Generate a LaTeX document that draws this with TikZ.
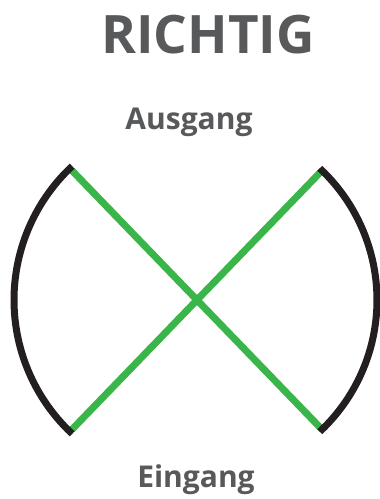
\documentclass[tikz,border=0pt]{standalone}
\usepackage{fontspec}
\setmainfont{Open Sans}
\definecolor{txtgrey}{HTML}{58595B}
\definecolor{arcblack}{HTML}{231F20}
\definecolor{xgreen}{HTML}{3AB54A}
\begin{document}
\begin{tikzpicture}[x=1pt,y=-1pt,
  lbl/.style={text=txtgrey,font=\bfseries,anchor=base,inner sep=0pt},
  arcline/.style={draw=arcblack,line width=7pt},
  greenline/.style={draw=xgreen,line width=7pt}]
\useasboundingbox[fill=white] (0,0) rectangle (380,499);
\coordinate (c) at (197,300);
\node[lbl,font=\fontsize{53}{60}\selectfont\bfseries] (title) at (208,53) {RICHTIG};
\node[lbl,font=\fontsize{30}{34}\selectfont\bfseries] (aus) at (189,129) {Ausgang};
\node[lbl,font=\fontsize{30}{34}\selectfont\bfseries] (ein) at (196,487) {Eingang};
\path (c) ++(134:180) coordinate (tl);
\path (c) ++(226:180) coordinate (bl);
\path (c) ++(46:180) coordinate (tr);
\path (c) ++(-46:180) coordinate (br);
\draw[greenline] (tl) -- (br);
\draw[greenline] (bl) -- (tr);
\draw[arcline] (c) ++(133:183) arc[start angle=133,end angle=227,radius=183];
\draw[arcline] (c) ++(-47:180) arc[start angle=-47,end angle=47,radius=180];
\end{tikzpicture}
\end{document}
